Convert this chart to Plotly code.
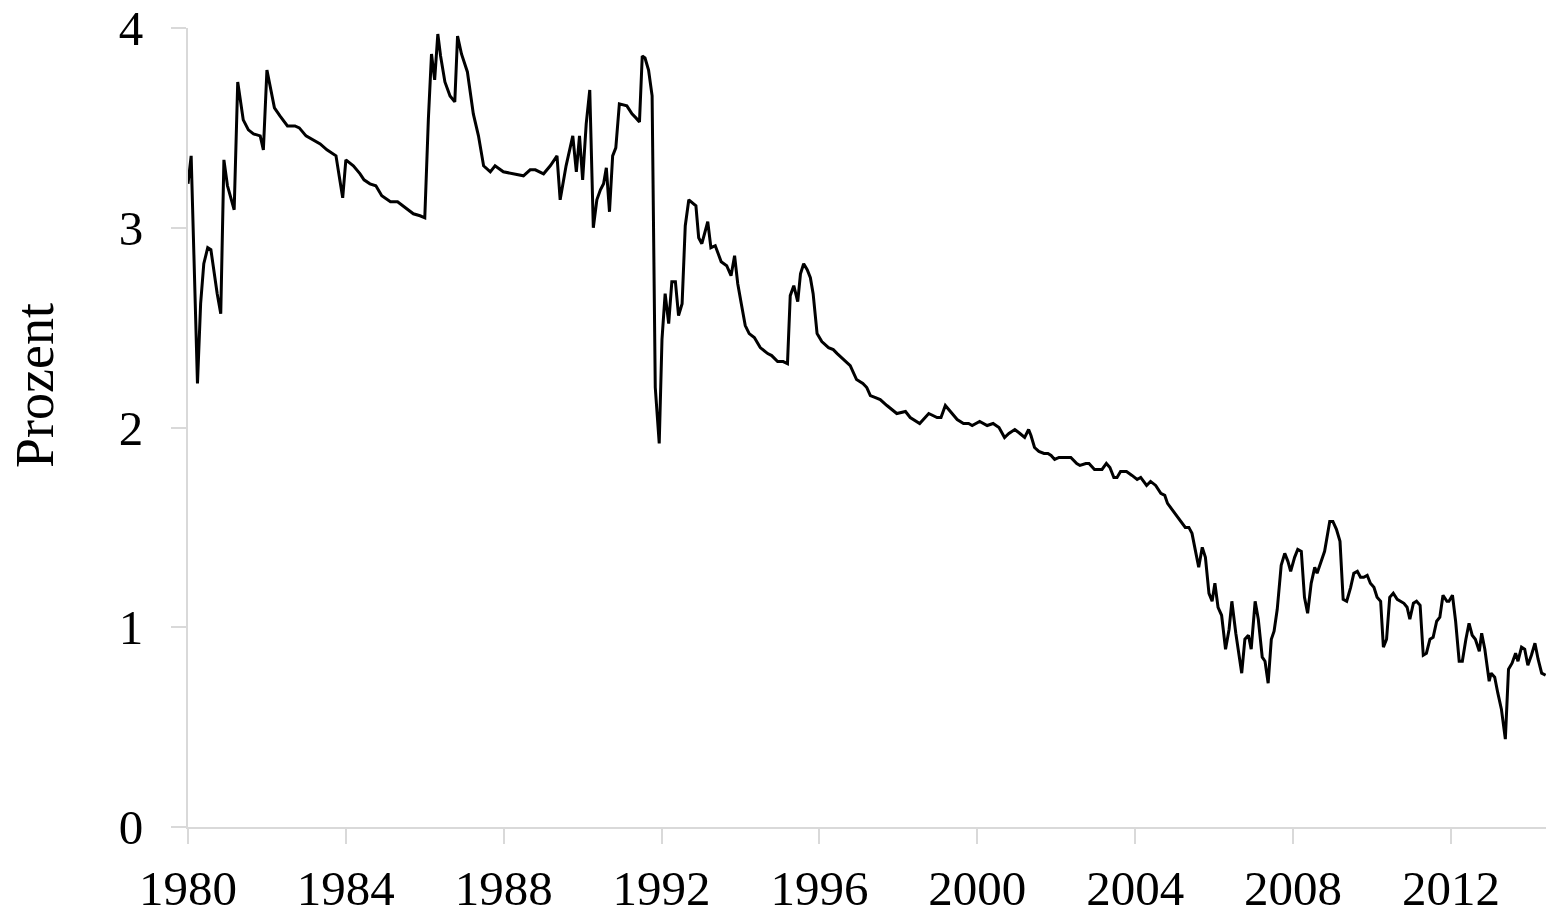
import plotly.graph_objects as go

# Zinssatz in Prozent (Zeit in Dezimaljahren)
years = [
    1980.00, 1980.08, 1980.24, 1980.32, 1980.40, 1980.50, 1980.58, 1980.66, 1980.74, 1980.83,
    1980.91, 1981.00, 1981.17, 1981.26, 1981.40, 1981.53, 1981.66, 1981.83, 1981.91, 1982.00,
    1982.08, 1982.19, 1982.33, 1982.52, 1982.71, 1982.82, 1982.99, 1983.18, 1983.35, 1983.52,
    1983.75, 1983.83, 1983.92, 1984.00, 1984.19, 1984.36, 1984.46, 1984.61, 1984.76, 1984.91,
    1985.13, 1985.31, 1985.44, 1985.58, 1985.71, 1985.88, 1986.00, 1986.09, 1986.17, 1986.25,
    1986.33, 1986.40, 1986.51, 1986.64, 1986.76, 1986.83, 1986.93, 1987.08, 1987.23, 1987.36,
    1987.49, 1987.66, 1987.78, 1987.99, 1988.25, 1988.50, 1988.67, 1988.80, 1989.01, 1989.18,
    1989.35, 1989.43, 1989.58, 1989.75, 1989.84, 1989.92, 1990.00, 1990.09, 1990.18, 1990.27,
    1990.36, 1990.45, 1990.53, 1990.60, 1990.68, 1990.76, 1990.84, 1990.93, 1991.12, 1991.25,
    1991.35, 1991.44, 1991.51, 1991.58, 1991.67, 1991.76, 1991.84, 1991.94, 1992.01, 1992.09,
    1992.18, 1992.26, 1992.35, 1992.43, 1992.52, 1992.60, 1992.69, 1992.87, 1992.94, 1993.02,
    1993.17, 1993.25, 1993.36, 1993.51, 1993.65, 1993.76, 1993.85, 1993.93, 1994.02, 1994.12,
    1994.22, 1994.35, 1994.50, 1994.69, 1994.79, 1994.94, 1995.08, 1995.19, 1995.26, 1995.35,
    1995.45, 1995.52, 1995.60, 1995.69, 1995.77, 1995.84, 1995.94, 1996.06, 1996.23, 1996.35,
    1996.45, 1996.62, 1996.78, 1996.94, 1997.10, 1997.20, 1997.29, 1997.42, 1997.54, 1997.71,
    1997.96, 1998.18, 1998.30, 1998.54, 1998.77, 1998.98, 1999.08, 1999.19, 1999.32, 1999.49,
    1999.65, 1999.78, 1999.87, 2000.06, 2000.25, 2000.40, 2000.55, 2000.69, 2000.80, 2000.95,
    2001.08, 2001.20, 2001.30, 2001.36, 2001.45, 2001.56, 2001.69, 2001.79, 2001.87, 2001.96,
    2002.07, 2002.24, 2002.37, 2002.52, 2002.60, 2002.75, 2002.83, 2002.97, 2003.16, 2003.27,
    2003.36, 2003.46, 2003.54, 2003.63, 2003.78, 2003.92, 2004.05, 2004.14, 2004.29, 2004.39,
    2004.52, 2004.65, 2004.75, 2004.82, 2004.93, 2005.06, 2005.16, 2005.27, 2005.36, 2005.44,
    2005.53, 2005.61, 2005.70, 2005.78, 2005.87, 2005.95, 2006.02, 2006.10, 2006.19, 2006.29,
    2006.38, 2006.45, 2006.55, 2006.62, 2006.70, 2006.78, 2006.87, 2006.94, 2007.04, 2007.12,
    2007.22, 2007.29, 2007.37, 2007.45, 2007.52, 2007.60, 2007.70, 2007.79, 2007.87, 2007.94,
    2008.04, 2008.12, 2008.21, 2008.29, 2008.37, 2008.46, 2008.55, 2008.61, 2008.70, 2008.80,
    2008.93, 2009.01, 2009.10, 2009.19, 2009.27, 2009.36, 2009.46, 2009.54, 2009.63, 2009.71,
    2009.79, 2009.88, 2009.96, 2010.05, 2010.13, 2010.22, 2010.29, 2010.37, 2010.45, 2010.54,
    2010.64, 2010.72, 2010.81, 2010.89, 2010.96, 2011.05, 2011.13, 2011.22, 2011.30, 2011.38,
    2011.47, 2011.55, 2011.64, 2011.72, 2011.80, 2011.90, 2011.95, 2012.04, 2012.12, 2012.21,
    2012.29, 2012.38, 2012.46, 2012.54, 2012.62, 2012.72, 2012.78, 2012.86, 2012.97, 2013.02,
    2013.11, 2013.19, 2013.28, 2013.38, 2013.46, 2013.55, 2013.64, 2013.70, 2013.79, 2013.87,
    2013.95, 2014.04, 2014.13, 2014.21, 2014.30, 2014.40,
]
values = [
    3.22, 3.36, 2.22, 2.62, 2.82, 2.90, 2.89, 2.77, 2.67, 2.57,
    3.34, 3.21, 3.09, 3.73, 3.54, 3.49, 3.47, 3.46, 3.39, 3.79,
    3.71, 3.60, 3.56, 3.51, 3.51, 3.50, 3.46, 3.44, 3.42, 3.39,
    3.36, 3.26, 3.15, 3.34, 3.31, 3.27, 3.24, 3.22, 3.21, 3.16,
    3.13, 3.13, 3.11, 3.09, 3.07, 3.06, 3.05, 3.54, 3.87, 3.74,
    3.97, 3.86, 3.73, 3.66, 3.63, 3.96, 3.87, 3.78, 3.57, 3.46,
    3.31, 3.28, 3.31, 3.28, 3.27, 3.26, 3.29, 3.29, 3.27, 3.31,
    3.36, 3.14, 3.31, 3.46, 3.28, 3.46, 3.24, 3.52, 3.69, 3.00,
    3.14, 3.19, 3.22, 3.30, 3.08, 3.36, 3.40, 3.62, 3.61, 3.57,
    3.55, 3.53, 3.86, 3.85, 3.79, 3.66, 2.20, 1.92, 2.44, 2.67,
    2.52, 2.73, 2.73, 2.56, 2.62, 3.01, 3.14, 3.11, 2.95, 2.92,
    3.03, 2.90, 2.91, 2.83, 2.81, 2.76, 2.86, 2.72, 2.62, 2.51,
    2.47, 2.45, 2.40, 2.37, 2.36, 2.33, 2.33, 2.32, 2.66, 2.71,
    2.63, 2.77, 2.82, 2.79, 2.75, 2.67, 2.47, 2.43, 2.40, 2.39,
    2.37, 2.34, 2.31, 2.24, 2.22, 2.20, 2.16, 2.15, 2.14, 2.11,
    2.07, 2.08, 2.05, 2.02, 2.07, 2.05, 2.05, 2.11, 2.08, 2.04,
    2.02, 2.02, 2.01, 2.03, 2.01, 2.02, 2.00, 1.95, 1.97, 1.99,
    1.97, 1.95, 1.99, 1.96, 1.90, 1.88, 1.87, 1.87, 1.86, 1.84,
    1.85, 1.85, 1.85, 1.82, 1.81, 1.82, 1.82, 1.79, 1.79, 1.82,
    1.80, 1.75, 1.75, 1.78, 1.78, 1.76, 1.74, 1.75, 1.71, 1.73,
    1.71, 1.67, 1.66, 1.62, 1.59, 1.56, 1.53, 1.50, 1.50, 1.47,
    1.38, 1.30, 1.40, 1.35, 1.17, 1.13, 1.22, 1.10, 1.06, 0.89,
    0.99, 1.13, 0.97, 0.87, 0.77, 0.94, 0.96, 0.89, 1.13, 1.04,
    0.85, 0.83, 0.72, 0.94, 0.98, 1.09, 1.31, 1.37, 1.33, 1.28,
    1.35, 1.39, 1.38, 1.15, 1.07, 1.22, 1.30, 1.27, 1.32, 1.38,
    1.53, 1.53, 1.49, 1.43, 1.14, 1.13, 1.20, 1.27, 1.28, 1.25,
    1.25, 1.26, 1.22, 1.20, 1.15, 1.13, 0.90, 0.94, 1.15, 1.17,
    1.14, 1.13, 1.12, 1.10, 1.04, 1.12, 1.13, 1.11, 0.86, 0.87,
    0.94, 0.95, 1.03, 1.05, 1.16, 1.13, 1.13, 1.16, 1.03, 0.83,
    0.83, 0.94, 1.02, 0.96, 0.94, 0.88, 0.97, 0.89, 0.73, 0.77,
    0.75, 0.67, 0.59, 0.44, 0.79, 0.82, 0.87, 0.83, 0.90, 0.89,
    0.81, 0.86, 0.92, 0.84, 0.77, 0.76,
]
x_ticks = [1980, 1984, 1988, 1992, 1996, 2000, 2004, 2008, 2012]
y_ticks = [0, 1, 2, 3, 4]

FONT = "Liberation Serif"
GRAY = "#d9d9d9"

fig = go.Figure()
fig.add_trace(go.Scatter(x=years, y=values, mode="lines",
                         line=dict(color="black", width=3), showlegend=False))

fig.update_layout(
    width=1546, height=912,
    margin=dict(l=188, r=0, t=28, b=85),
    plot_bgcolor="white", paper_bgcolor="white",
    font=dict(family=FONT, size=49, color="black"),
    xaxis=dict(range=[1980, 2014.41], tickvals=x_ticks, ticktext=[str(t) for t in x_ticks],
               showgrid=False, zeroline=False, showline=True, linecolor=GRAY, linewidth=2,
               ticks="outside", ticklen=15, tickwidth=2, tickcolor=GRAY,
               ticklabelstandoff=2, ticklabeloverflow="allow", automargin=False),
    yaxis=dict(range=[0, 4], tickvals=y_ticks,
               showgrid=False, zeroline=False, showline=True, linecolor=GRAY, linewidth=2,
               ticks="outside", ticklen=15, tickwidth=2, tickcolor=GRAY,
               ticklabelstandoff=18, ticklabeloverflow="allow", automargin=False),
    annotations=[dict(text="Prozent", xref="paper", yref="paper", x=0, y=0.552,
                      xshift=-153, textangle=-90, showarrow=False,
                      xanchor="center", yanchor="middle",
                      font=dict(family=FONT, size=54, color="black"))],
)

# drop the default 8px body margin so the figure fills the window exactly
fig.write_html("out.html", config={"displayModeBar": False},
               post_script="document.body.style.margin='0';document.body.style.overflow='hidden';")
